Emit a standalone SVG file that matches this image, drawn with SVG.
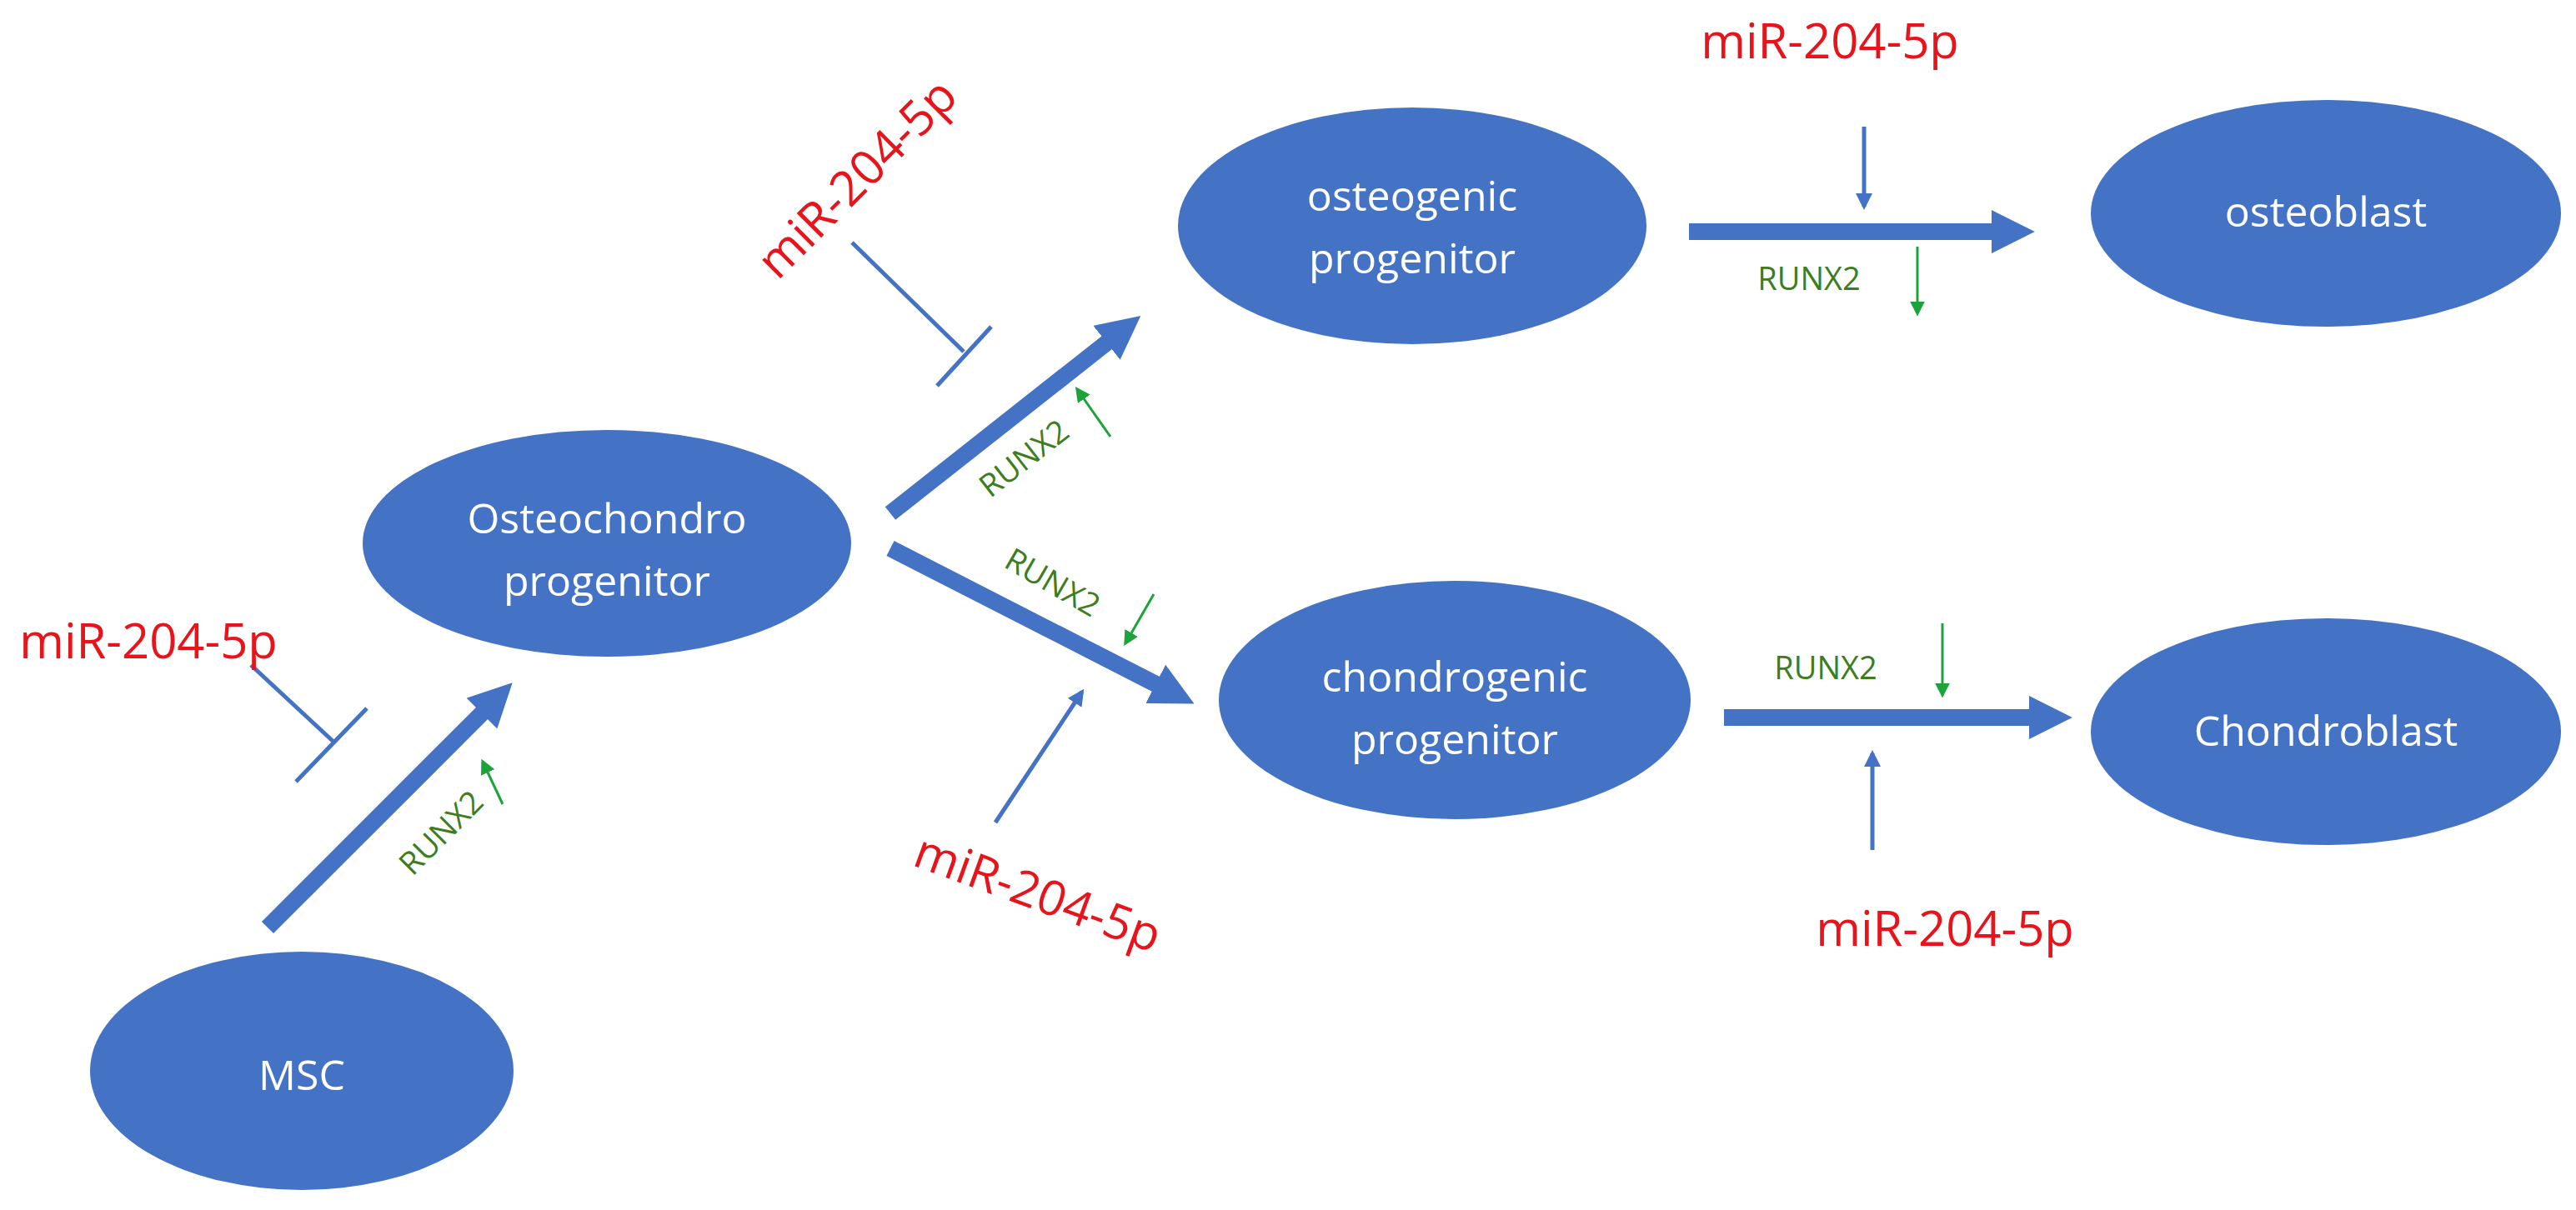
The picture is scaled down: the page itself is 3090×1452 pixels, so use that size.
<svg xmlns="http://www.w3.org/2000/svg" width="3090" height="1452" viewBox="0 0 3090 1452">
<defs>
<style>
.node{fill:#4472C4}
.nt{font-family:"Open Sans","Liberation Sans",sans-serif;fill:#fff;text-anchor:middle;font-size:50px}
.mir{font-family:"Open Sans","Liberation Sans",sans-serif;fill:#E8141B;text-anchor:middle;font-size:58px}
.rx{font-family:"Open Sans","Liberation Sans",sans-serif;fill:#3E7D1E;text-anchor:middle;font-size:38px}
.thick{stroke:#4472C4;stroke-width:20;fill:none}
.thin{stroke:#4472C4;stroke-width:5;fill:none}
.green{stroke:#1CA33A;stroke-width:3;fill:none}
</style>
<marker id="bh" viewBox="0 0 10 10" refX="6" refY="5" markerWidth="2.6" markerHeight="2.6" orient="auto" markerUnits="strokeWidth"><path d="M0,0L10,5L0,10z" fill="#4472C4"/></marker>
<marker id="th" viewBox="0 0 10 10" refX="8" refY="5" markerWidth="4" markerHeight="4" orient="auto" markerUnits="strokeWidth"><path d="M0,0L10,5L0,10z" fill="#4472C4"/></marker>
<marker id="gh" viewBox="0 0 10 10" refX="8" refY="5" markerWidth="6" markerHeight="6" orient="auto" markerUnits="strokeWidth"><path d="M0,0L10,5L0,10z" fill="#1CA33A"/></marker>
</defs>
<rect width="3090" height="1452" fill="#fff"/>
<g id="msc"><ellipse class="node" cx="362" cy="1285" rx="254" ry="143"/><text class="nt" x="362" y="1308" font-size="64">MSC</text></g>
<g id="osteochondro"><ellipse class="node" cx="728" cy="652" rx="293" ry="136"/><text class="nt" x="728" y="640">Osteochondro</text><text class="nt" x="728" y="715">progenitor</text></g>
<g id="osteogenic"><ellipse class="node" cx="1694" cy="271" rx="281" ry="142"/><text class="nt" x="1694" y="253">osteogenic</text><text class="nt" x="1694" y="328">progenitor</text></g>
<g id="chondrogenic"><ellipse class="node" cx="1745" cy="840" rx="283" ry="143"/><text class="nt" x="1745" y="830">chondrogenic</text><text class="nt" x="1745" y="905">progenitor</text></g>
<g id="osteoblast"><ellipse class="node" cx="2790" cy="256" rx="282" ry="136"/><text class="nt" x="2790" y="272">osteoblast</text></g>
<g id="chondroblast"><ellipse class="node" cx="2790" cy="878" rx="282" ry="136"/><text class="nt" x="2790" y="895">Chondroblast</text></g>
<g id="connectors">
<line class="thick" x1="321" y1="1113" x2="600" y2="834" marker-end="url(#bh)"/>
<line class="thick" x1="1068" y1="616" x2="1352" y2="392" marker-end="url(#bh)"/>
<line class="thick" x1="1068" y1="658" x2="1414" y2="835" marker-end="url(#bh)"/>
<line class="thick" x1="2026" y1="278" x2="2420" y2="278" marker-end="url(#bh)"/>
<line class="thick" x1="2068" y1="861" x2="2465" y2="861" stroke-width="16" marker-end="url(#bh)"/>
<line class="thin" x1="301" y1="798" x2="400" y2="890"/>
<line class="thin" x1="355" y1="938" x2="440" y2="850"/>
<line class="thin" x1="1022" y1="291" x2="1156" y2="422"/>
<line class="thin" x1="1124" y1="463" x2="1189" y2="392"/>
<line class="thin" x1="1194" y1="987" x2="1298" y2="830" marker-end="url(#th)"/>
<line class="thin" x1="2236" y1="152" x2="2236" y2="248" marker-end="url(#th)"/>
<line class="thin" x1="2246" y1="1020" x2="2246" y2="904" marker-end="url(#th)"/>
<line class="green" x1="603" y1="965" x2="579" y2="914" marker-end="url(#gh)"/>
<line class="green" x1="1332" y1="524" x2="1292" y2="467" marker-end="url(#gh)"/>
<line class="green" x1="1384" y1="713" x2="1350" y2="772" marker-end="url(#gh)"/>
<line class="green" x1="2300" y1="296" x2="2300" y2="376" marker-end="url(#gh)"/>
<line class="green" x1="2330" y1="748" x2="2330" y2="834" marker-end="url(#gh)"/>
</g>
<g id="labels">
<text class="mir" x="178" y="790">miR-204-5p</text>
<text class="mir" transform="translate(1028,214) rotate(-45)" y="20" font-size="64">miR-204-5p</text>
<text class="mir" transform="translate(1245,1072) rotate(20)" y="20" font-size="64">miR-204-5p</text>
<text class="mir" x="2195" y="70" font-size="72">miR-204-5p</text>
<text class="mir" x="2333" y="1135" font-size="72">miR-204-5p</text>
<text class="rx" transform="translate(530,1000) rotate(-45)" y="12">RUNX2</text>
<text class="rx" transform="translate(1229,551) rotate(-38)" y="12">RUNX2</text>
<text class="rx" transform="translate(1262,700) rotate(30)" y="12">RUNX2</text>
<text class="rx" x="2170" y="348">RUNX2</text>
<text class="rx" x="2190" y="815">RUNX2</text>
</g>
</svg>
